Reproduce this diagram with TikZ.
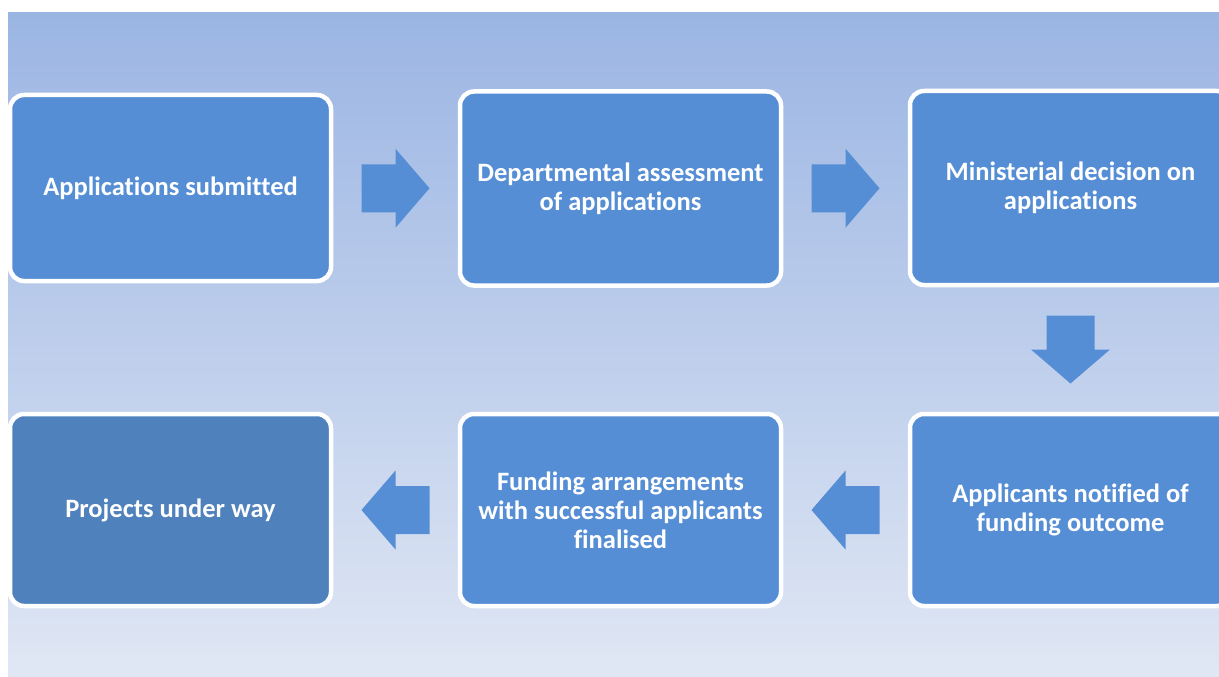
\documentclass[tikz,border=0pt]{standalone}
\usepackage{fontspec}
\setmainfont{Carlito}[Ligatures=NoCommon]
\usetikzlibrary{calc}

\definecolor{boxblue}{RGB}{85,142,213}
\definecolor{endblue}{RGB}{79,129,189}
\definecolor{bgtop}{RGB}{155,181,227}
\definecolor{bgbottom}{RGB}{224,231,244}

\tikzset{
  stage/.style={rectangle, rounded corners=14pt, draw=white, line width=4.5pt,
    fill=boxblue, text=white, font=\bfseries\fontsize{26.5}{29}\selectfont,
    align=center, minimum width=321pt, minimum height=194pt, inner sep=0pt},
  blockarrow/.pic={
    \fill[boxblue] (-34,-24) -- (0,-24) -- (0,-39.5) -- (34,0) -- (0,39.5)
      -- (0,24) -- (-34,24) -- cycle;}
}

\begin{document}
\begin{tikzpicture}[x=1pt,y=-1pt]
\useasboundingbox[fill=white] (0,0) rectangle (1219,677);
\shade[top color=bgtop,bottom color=bgbottom] (8,13) rectangle (1219,677);

% top row
\node[stage, minimum height=186pt] (submitted) at (170.5,188) {Applications submitted};
\node[stage] (assessment) at (620.5,188.5) {Departmental assessment\\of applications};
\node[stage] (decision) at (1070.5,188) {Ministerial decision on\\applications};

% bottom row
\node[stage, fill=endblue, minimum height=192pt] (underway) at (170.5,510) {Projects under way};
\node[stage, minimum height=192pt] (finalised) at (620.5,510) {Funding arrangements\\with successful applicants\\finalised};
\node[stage, minimum height=192pt] (notified) at (1070.5,510) {Applicants notified of\\funding outcome};

% block arrows between stages
\pic at ($(submitted.east)!0.5!(assessment.west)$) {blockarrow};
\pic at ($(assessment.east)!0.5!(decision.west)$) {blockarrow};
\pic[rotate=-90] at ($(decision.south)!0.5!(notified.north)$) {blockarrow};
\pic[rotate=180] at ($(notified.west)!0.5!(finalised.east)$) {blockarrow};
\pic[rotate=180] at ($(finalised.west)!0.5!(underway.east)$) {blockarrow};
\end{tikzpicture}
\end{document}
